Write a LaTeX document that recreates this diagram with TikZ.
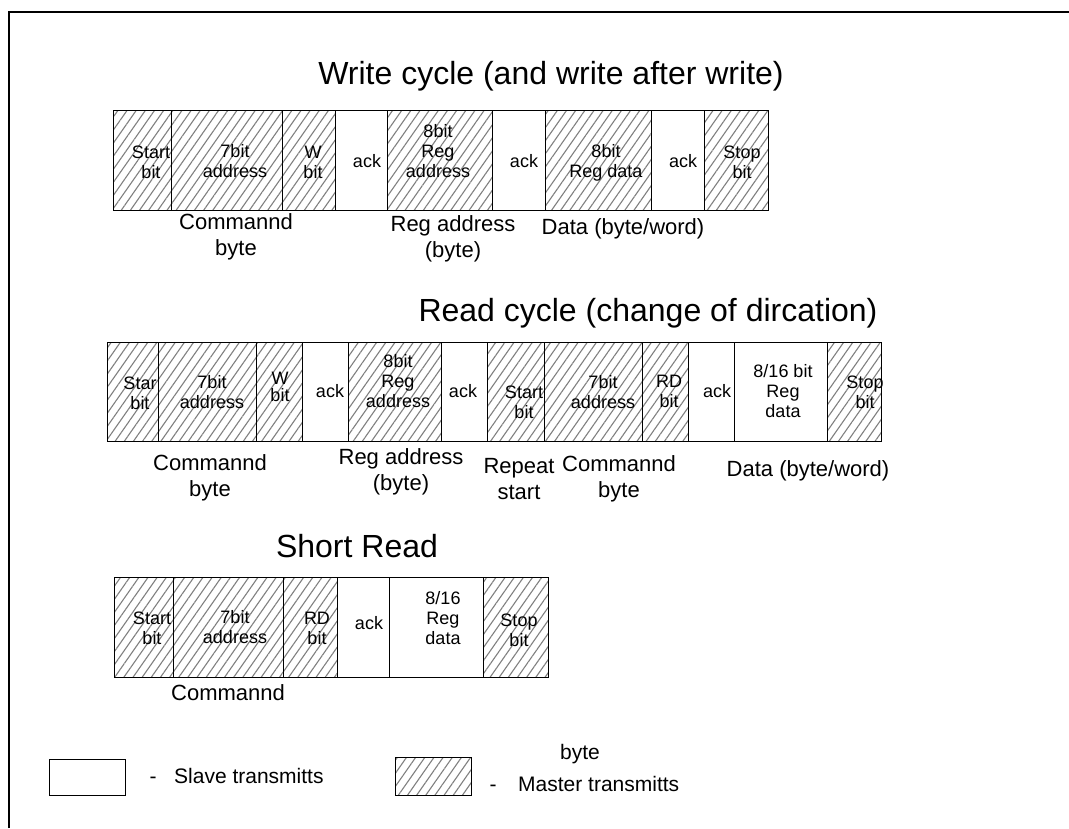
\documentclass[tikz,border=0pt]{standalone}
\usepackage{fontspec}
\setmainfont{Liberation Sans}
\usetikzlibrary{patterns.meta}
\newcommand\mkfield[6]{%
  \pgfmathsetmacro\fldw{#4-#3}\pgfmathsetmacro\fldh{#6-#5}%
  \node[#2, minimum width=\fldw pt, minimum height=\fldh pt, anchor=north west] (#1) at (#3,#5) {};}
\tikzset{
  mst/.style={draw, line width=1.3pt, inner sep=0pt,
    pattern={Lines[angle=55,distance=7.5pt,line width=1.1pt]}, pattern color=black!50},
  slv/.style={draw, line width=1.3pt, inner sep=0pt, fill=white},
  btxt/.style={font=\fontsize{18}{20}\selectfont, align=center, inner sep=0pt},
  lbl/.style={font=\fontsize{22}{26}\selectfont, align=center, inner sep=0pt},
  lgd/.style={font=\fontsize{21}{25}\selectfont, inner sep=0pt},
  ttl/.style={font=\fontsize{32}{36}\selectfont, inner sep=0pt},
}
\begin{document}
\begin{tikzpicture}[x=1pt,y=-1pt]
\useasboundingbox (0,0) rectangle (1069,828);
\fill[white] (0,0) rectangle (1069,828);
% frame
\coordinate (fa) at (9,828);
\coordinate (fb) at (9,12);
\coordinate (fc) at (1069,12);
\draw[line width=1.5pt] (fa) -- (fb) -- (fc);

% ---------------- Write cycle ----------------
\node[ttl] (wt) at (551,76) {Write cycle (and write after write)};
\mkfield{w1}{mst}{113}{171}{110}{210}
\mkfield{w2}{mst}{171}{282}{110}{210}
\mkfield{w3}{mst}{282}{335}{110}{210}
\mkfield{w4}{slv}{335}{387}{110}{210}
\mkfield{w5}{mst}{387}{492}{110}{210}
\mkfield{w6}{slv}{492}{545}{110}{210}
\mkfield{w7}{mst}{545}{651}{110}{210}
\mkfield{w8}{slv}{651}{704}{110}{210}
\mkfield{w9}{mst}{704}{768}{110}{210}
\node[btxt] (w1t) at (151,162) {Start\\bit};
\node[btxt] (w2t) at (235,161) {7bit\\address};
\node[btxt] (w3t) at (313,162) {W\\bit};
\node[btxt] (w4t) at (367,161) {ack};
\node[btxt] (w5t) at (438,151) {8bit\\Reg\\address};
\node[btxt] (w6t) at (524,161) {ack};
\node[btxt] (w7t) at (606,163) {8bit\\Reg data};
\node[btxt] (w8t) at (683,161) {ack};
\node[btxt] (w9t) at (742,162) {Stop\\bit};
\node[lbl] (wl1) at (236,237) {Commannd\\byte};
\node[lbl] (wl2) at (453,239) {Reg address\\(byte)};
\node[lbl] (wl3) at (623,229) {Data (byte/word)};

% ---------------- Read cycle ----------------
\node[ttl] (rt) at (648,313) {Read cycle (change of dircation)};
\mkfield{r1}{mst}{107}{158}{342}{441}
\mkfield{r2}{mst}{158}{256}{342}{441}
\mkfield{r3}{mst}{256}{302}{342}{441}
\mkfield{r4}{slv}{302}{348}{342}{441}
\mkfield{r5}{mst}{348}{441}{342}{441}
\mkfield{r6}{slv}{441}{487}{342}{441}
\mkfield{r7}{mst}{487}{544}{342}{441}
\mkfield{r8}{mst}{544}{642}{342}{441}
\mkfield{r9}{mst}{642}{688}{342}{441}
\mkfield{r10}{slv}{688}{734}{342}{441}
\mkfield{r11}{slv}{734}{827}{342}{441}
\mkfield{r12}{mst}{827}{881}{342}{441}
\node[btxt] (r1t) at (140,393) {Star\\bit};
\node[btxt] (r2t) at (212,392) {7bit\\address};
\node[btxt, font=\fontsize{18}{17}\selectfont] (r3t) at (280,387) {W\\bit};
\node[btxt] (r4t) at (330,391) {ack};
\node[btxt] (r5t) at (398,381) {8bit\\Reg\\address};
\node[btxt] (r6t) at (463,391) {ack};
\node[btxt] (r7t) at (524,402) {Start\\bit};
\node[btxt] (r8t) at (603,392) {7bit\\address};
\node[btxt] (r9t) at (669,391) {RD\\bit};
\node[btxt] (r10t) at (717,391) {ack};
\node[btxt] (r11t) at (783,391) {8/16 bit\\Reg\\data};
\node[btxt] (r12t) at (865,392) {Stop\\bit};
\node[lbl] (rl1) at (210,478) {Commannd\\byte};
\node[lbl] (rl2) at (401,472) {Reg address\\(byte)};
\node[lbl] (rl3) at (519,479) {Repeat\\start};
\node[lbl] (rl4) at (619,479) {Commannd\\byte};
\node[lbl] (rl5) at (808,471) {Data (byte/word)};

% ---------------- Short read ----------------
\node[ttl] (st) at (357,546) {Short Read};
\mkfield{s1}{mst}{114}{173}{577}{677}
\mkfield{s2}{mst}{173}{283}{577}{677}
\mkfield{s3}{mst}{283}{337}{577}{677}
\mkfield{s4}{slv}{337}{389}{577}{677}
\mkfield{s5}{slv}{389}{483}{577}{677}
\mkfield{s6}{mst}{483}{548}{577}{677}
\node[btxt] (s1t) at (152,628) {Start\\bit};
\node[btxt] (s2t) at (235,627) {7bit\\address};
\node[btxt] (s3t) at (317,628) {RD\\bit};
\node[btxt] (s4t) at (369,623) {ack};
\node[btxt] (s5t) at (443,618) {8/16\\Reg\\data};
\node[btxt] (s6t) at (519,630) {Stop\\bit};
\node[lbl] (sl1) at (228,693) {Commannd};

% ---------------- Legend ----------------
\mkfield{lg1}{slv}{49}{125}{759}{795}
\node[lgd, anchor=base] (lg1d) at (153,783) {-};
\node[lgd, anchor=base west] (lg1t) at (174,783) {Slave transmitts};
\mkfield{lg2}{mst}{395}{471}{757}{795}
\node[lgd] (lg2b) at (580,754) {byte};
\node[lgd, anchor=base] (lg2d) at (493,791) {-};
\node[lgd, anchor=base west] (lg2t) at (518,791) {Master transmitts};
\end{tikzpicture}
\end{document}
